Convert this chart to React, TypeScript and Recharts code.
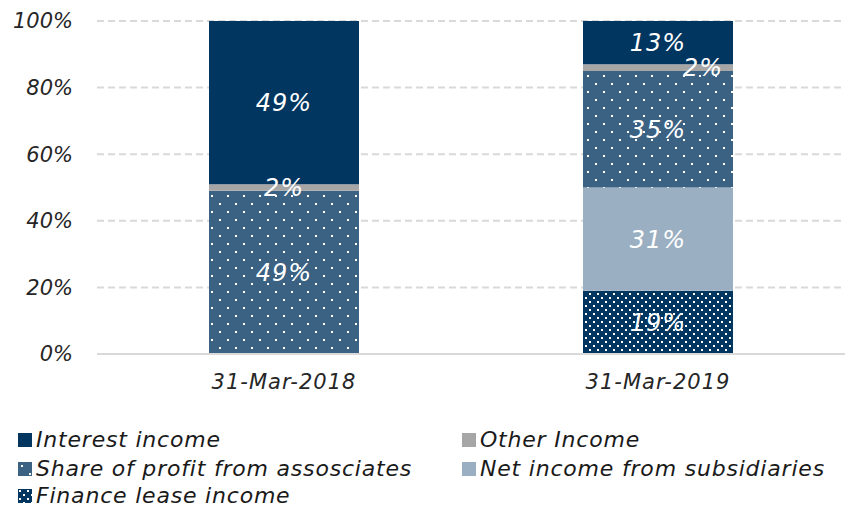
import React from 'react';
import { BarChart, Bar, XAxis, YAxis, CartesianGrid, LabelList } from 'recharts';

const categories = ['31-Mar-2018', '31-Mar-2019'];
const interestIncome = [49, 13];
const otherIncome = [2, 2];
const shareOfProfit = [49, 35];
const netIncomeSubsidiaries = [0, 31];
const financeLease = [0, 19];
const yTicks = [0, 20, 40, 60, 80, 100];

const data = categories.map((name, i) => ({
  name,
  finance: financeLease[i],
  net: netIncomeSubsidiaries[i],
  share: shareOfProfit[i],
  other: otherIncome[i],
  interest: interestIncome[i],
}));

const FONT = '"DejaVu Sans", "Open Sans", sans-serif';
const NAVY = '#003660';

const legendItems = [
  { label: 'Interest income', fill: NAVY, x: 18, y: 440 },
  { label: 'Other Income', fill: '#a6a6a6', x: 462, y: 440 },
  { label: 'Share of profit from assosciates', fill: 'url(#dotsSparse)', x: 18, y: 469 },
  { label: 'Net income from subsidiaries', fill: '#9bafc2', x: 462, y: 469 },
  { label: 'Finance lease income', fill: 'url(#dotsDense)', x: 18, y: 496 },
];

const pctLabel = (v: any) => (v ? `${v}%` : '');

// the 2% slice on the second bar sits off to the right in the original
const OtherLabel = (props: any) => {
  const { x, y, width, height, value, index } = props;
  const cx = x + width / 2 + (index === 1 ? 45 : 0);
  return (
    <text x={cx} y={y + height / 2} dy="0.35em" textAnchor="middle" fill="#fff" fontSize={24} letterSpacing={1} fontStyle="italic" fontFamily={FONT}>
      {value}%
    </text>
  );
};

const labelStyle = { fill: '#fff', fontSize: 24, letterSpacing: 1, fontStyle: 'italic', fontFamily: FONT };
const tickStyle = { fill: '#262626', fontSize: 21, fontStyle: 'italic', fontFamily: FONT };

export default function App() {
  return (
    <div style={{ position: 'absolute', left: 0, top: 0, width: 845, height: 509, background: '#fff', fontFamily: FONT, overflow: 'hidden' }}>
      <svg width={0} height={0} style={{ position: 'absolute' }}>
        <defs>
          <pattern id="dotsSparse" width={16} height={16} patternUnits="userSpaceOnUse">
            <rect width={16} height={16} fill="#3b6183" />
            <rect x={3} y={3} width={2} height={2} fill="#fff" />
            <rect x={11} y={11} width={2} height={2} fill="#fff" />
          </pattern>
          <pattern id="dotsDense" width={8} height={8} patternUnits="userSpaceOnUse">
            <rect width={8} height={8} fill={NAVY} />
            <rect x={1} y={1} width={2} height={2} fill="#fff" />
            <rect x={5} y={5} width={2} height={2} fill="#fff" />
          </pattern>
        </defs>
      </svg>
      <BarChart width={845} height={420} data={data} margin={{ top: 21, right: 0, left: 0, bottom: 0 }} barSize={150}>
        <CartesianGrid vertical={false} stroke="#d9d9d9" strokeWidth={2} strokeDasharray="7 4" />
        <XAxis
          dataKey="name"
          axisLine={{ stroke: '#d9d9d9', strokeWidth: 2 }}
          tickLine={false}
          height={66}
          tickMargin={14}
          tick={{ ...tickStyle, letterSpacing: 1 }}
        />
        <YAxis
          domain={[0, 100]}
          ticks={yTicks}
          width={97}
          axisLine={false}
          tickLine={false}
          tickMargin={18}
          tickFormatter={(v) => `${v}%`}
          tick={tickStyle}
        />
        <Bar dataKey="finance" stackId="a" fill="url(#dotsDense)" isAnimationActive={false}>
          <LabelList dataKey="finance" position="center" formatter={pctLabel} style={labelStyle} />
        </Bar>
        <Bar dataKey="net" stackId="a" fill="#9bafc2" isAnimationActive={false}>
          <LabelList dataKey="net" position="center" formatter={pctLabel} style={labelStyle} />
        </Bar>
        <Bar dataKey="share" stackId="a" fill="url(#dotsSparse)" isAnimationActive={false}>
          <LabelList dataKey="share" position="center" formatter={pctLabel} style={labelStyle} />
        </Bar>
        <Bar dataKey="other" stackId="a" fill="#a6a6a6" isAnimationActive={false}>
          <LabelList dataKey="other" content={<OtherLabel />} />
        </Bar>
        <Bar dataKey="interest" stackId="a" fill={NAVY} isAnimationActive={false}>
          <LabelList dataKey="interest" position="center" formatter={pctLabel} style={labelStyle} />
        </Bar>
      </BarChart>
      {legendItems.map((it) => (
        <div key={it.label} style={{ position: 'absolute', left: it.x, top: it.y - 12, height: 24, display: 'flex', alignItems: 'center' }}>
          <svg width={14} height={14} style={{ marginRight: 4, flex: 'none' }}>
            <rect width={14} height={14} fill={it.fill} />
          </svg>
          <span style={{ fontSize: 22, letterSpacing: 0.8, fontStyle: 'italic', color: '#1a1a1a', whiteSpace: 'nowrap', lineHeight: '24px' }}>{it.label}</span>
        </div>
      ))}
    </div>
  );
}
